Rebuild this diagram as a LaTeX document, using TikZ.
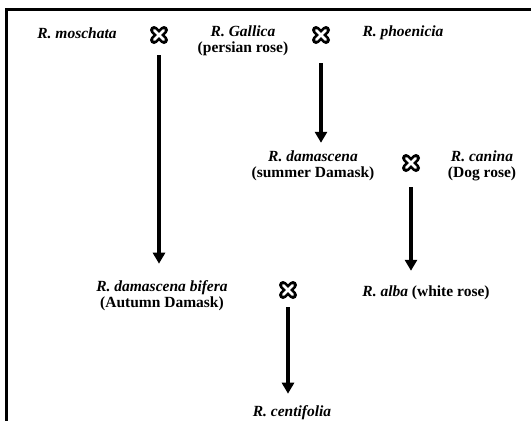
\documentclass[tikz,border=0pt]{standalone}
\usepackage{fontspec}
\setmainfont{Liberation Serif}
\usetikzlibrary{arrows.meta}
\tikzset{
  rosename/.style={font=\fontsize{15.5}{16}\selectfont\bfseries, align=center, inner sep=0pt},
  crossmk/.style={minimum size=22pt, inner sep=0pt,
    path picture={
      \foreach \s in {1,-1}{
        \draw[line width=8pt,line cap=round]
          ([shift={(-5pt,-5pt*\s)}]path picture bounding box.center) -- ++(10pt,10pt*\s);
      }
      \foreach \s in {1,-1}{
        \draw[white,line width=2.8pt,line cap=round]
          ([shift={(-4.6pt,-4.6pt*\s)}]path picture bounding box.center) -- ++(9.2pt,9.2pt*\s);
      }
    }},
  descent/.style={line width=3.2pt, -{Triangle[width=12pt,length=11pt]}}
}
\newcommand{\species}[1]{\textit{#1}}
\begin{document}
\begin{tikzpicture}[x=1pt,y=-1pt]
  \useasboundingbox (0,0) rectangle (531,421);
  % frame, open at right and bottom
  \draw[line width=3pt] (531,9) -- (6.5,9) -- (6.5,421);
  % parents, first row
  \node[rosename] (mosch) at (77,33) {\species{R. moschata}};
  \node[crossmk] (x1) at (159,35) {};
  \node[rosename] (gall) at (243,41) {\species{R. Gallica}\\(persian rose)};
  \node[crossmk] (x2) at (321,35) {};
  \node[rosename] (phoen) at (403,33) {\species{R. phoenicia}};
  % second row
  \node[rosename] (dam) at (313,166) {\species{R. damascena}\\(summer Damask)};
  \node[crossmk] (x3) at (411,163) {};
  \node[rosename] (can) at (482,166) {\species{R. canina}\\(Dog rose)};
  % third row
  \node[rosename] (bif) at (162,296) {\species{R. damascena bifera}\\(Autumn Damask)};
  \node[crossmk] (x4) at (288,290) {};
  \node[rosename] (alba) at (426,293) {\species{R. alba} (white rose)};
  % last
  \node[rosename] (cent) at (292,413) {\species{R. centifolia}};
  % descents
  \draw[descent,shorten <=9pt,shorten >=17pt] (x1.south) -- (x1.south |- bif.north);
  \draw[descent,shorten <=17pt,shorten >=8pt] (x2.south) -- (x2.south |- dam.north);
  \draw[descent,shorten <=13pt,shorten >=15pt] (x3.south) -- (x3.south |- alba.north);
  \draw[descent,shorten <=6pt,shorten >=12pt] (x4.south) -- (x4.south |- cent.north);
\end{tikzpicture}
\end{document}
